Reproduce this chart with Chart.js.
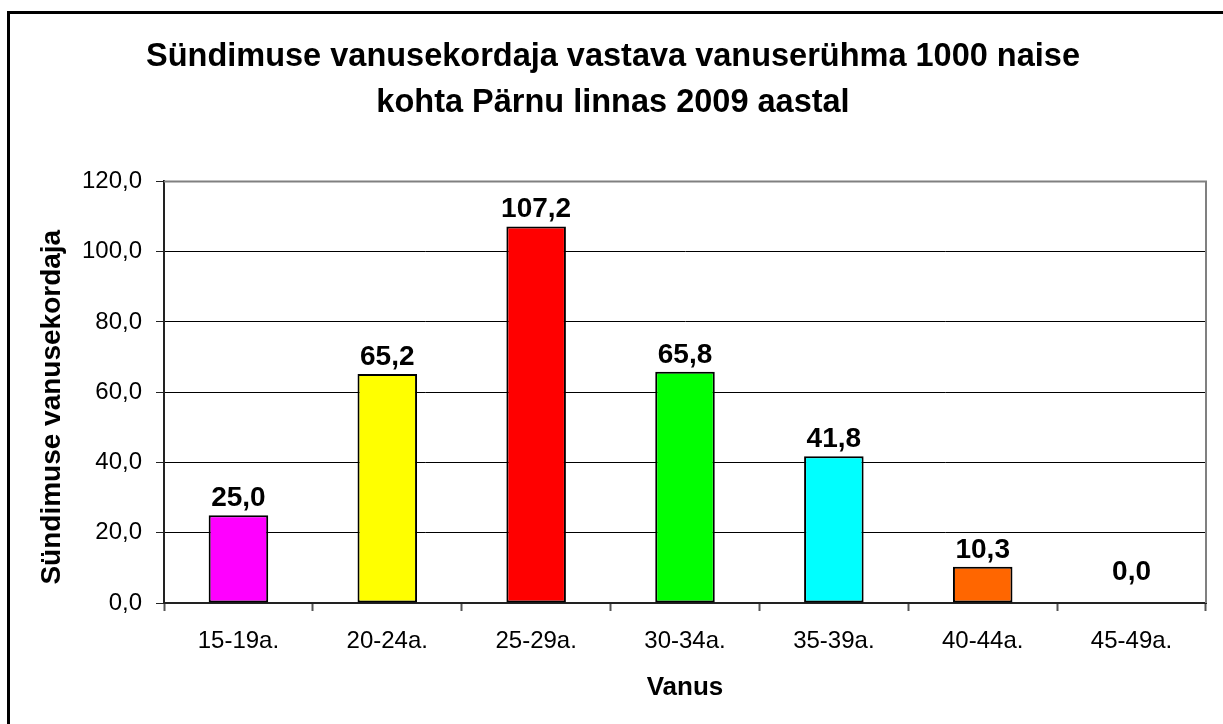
<!DOCTYPE html>
<html><head><meta charset="utf-8">
<script src="https://cdn.jsdelivr.net/npm/chart.js@4"></script>
<style>
html,body{margin:0;padding:0;background:#fff;overflow:hidden;}
#wrap{position:relative;width:1223px;height:724px;overflow:hidden;}
#frame{position:absolute;left:7px;top:11px;width:1400px;height:900px;border-left:3px solid #000;border-top:3px solid #000;}
canvas{position:absolute;left:0;top:0;}
</style></head><body>
<div id="wrap"><div id="frame"></div><canvas id="c" width="1223" height="724" style="width:1223px;height:724px"></canvas></div>
<script>
const categories = ['15-19a.', '20-24a.', '25-29a.', '30-34a.', '35-39a.', '40-44a.', '45-49a.'];
const values = [25.0, 65.2, 107.2, 65.8, 41.8, 10.3, 0.0];
const barColors = ['#FF00FF', '#FFFF00', '#FF0000', '#00FF00', '#00FFFF', '#FF6600', '#993366'];
const yTickValues = [0, 20, 40, 60, 80, 100, 120];
const titleLines = ['Sündimuse vanusekordaja vastava vanuserühma 1000 naise', 'kohta Pärnu linnas 2009 aastal'];
const xTitle = 'Vanus';
const yTitle = 'Sündimuse vanusekordaja';

const FONT = '"Liberation Sans", Arial, Helvetica, sans-serif';
Chart.defaults.font.family = FONT;
Chart.defaults.color = '#000';
const fmt = v => Number(v).toFixed(1).replace('.', ',');

const plotBorder = {
  id: 'plotBorder',
  beforeDatasetsDraw(chart) {
    const {ctx, chartArea: a} = chart;
    ctx.save();
    ctx.strokeStyle = '#808080';
    ctx.lineWidth = 2;
    ctx.beginPath();
    ctx.moveTo(a.left, a.top);
    ctx.lineTo(a.right, a.top);
    ctx.lineTo(a.right, a.bottom);
    ctx.stroke();
    ctx.restore();
  }
};

const valueLabels = {
  id: 'valueLabels',
  afterDatasetsDraw(chart) {
    const ctx = chart.ctx;
    const meta = chart.getDatasetMeta(0);
    ctx.save();
    ctx.font = 'bold 28px ' + FONT;
    ctx.fillStyle = '#000';
    ctx.textAlign = 'center';
    ctx.textBaseline = 'alphabetic';
    meta.data.forEach((bar, i) => {
      const flat = Math.abs(bar.base - bar.y) < 1;
      ctx.fillText(fmt(values[i]), bar.x, bar.y - (flat ? 23 : 9));
    });
    ctx.restore();
  }
};

const yAxisTitle = {
  id: 'yAxisTitle',
  afterDraw(chart) {
    const {ctx, chartArea: a} = chart;
    ctx.save();
    ctx.translate(a.left - 112, (a.top + a.bottom) / 2 + 15);
    ctx.rotate(-Math.PI / 2);
    ctx.font = 'bold 28px ' + FONT;
    ctx.textAlign = 'center';
    ctx.textBaseline = 'middle';
    ctx.fillStyle = '#000';
    ctx.fillText(yTitle, 0, 0);
    ctx.restore();
  }
};

new Chart(document.getElementById('c'), {
  type: 'bar',
  data: {
    labels: categories,
    datasets: [{
      data: values,
      backgroundColor: barColors,
      borderColor: '#000',
      borderWidth: 2,
      borderSkipped: false,
      barPercentage: 0.4,
      categoryPercentage: 1.0
    }]
  },
  options: {
    responsive: false,
    animation: false,
    layout: {padding: {left: 20, right: 17, top: 0, bottom: 0}},
    plugins: {
      legend: {display: false},
      tooltip: {enabled: false},
      title: {
        display: true,
        text: titleLines,
        color: '#000',
        font: {size: 32.5, weight: 'bold', lineHeight: 1.40625},
        padding: {top: 34, bottom: 56}
      }
    },
    scales: {
      x: {
        afterFit(scale) { scale.height = 121; },
        grid: {
          drawOnChartArea: false,
          drawTicks: true,
          tickLength: 8,
          tickColor: '#555',
          tickWidth: 2
        },
        border: {display: true, color: '#222', width: 2},
        ticks: {color: '#000', font: {size: 24}, padding: 16, maxRotation: 0},
        title: {display: true, text: xTitle, color: '#000', font: {size: 26, weight: 'bold'}, padding: {top: 0, bottom: 21}}
      },
      y: {
        min: 0,
        max: 120,
        afterFit(scale) { scale.width = 144; },
        afterBuildTicks(scale) { scale.ticks = yTickValues.map(v => ({value: v})); },
        grid: {
          color: ctx => (ctx.tick && ctx.tick.value === 120) ? '#808080' : '#000',
          lineWidth: 1,
          drawTicks: true,
          tickLength: 8,
          tickColor: '#222'
        },
        border: {display: true, color: '#222', width: 2},
        ticks: {color: '#000', font: {size: 24}, padding: 14, callback: v => fmt(v)},
        title: {display: false}
      }
    }
  },
  plugins: [plotBorder, valueLabels, yAxisTitle]
});
</script>
</body></html>
